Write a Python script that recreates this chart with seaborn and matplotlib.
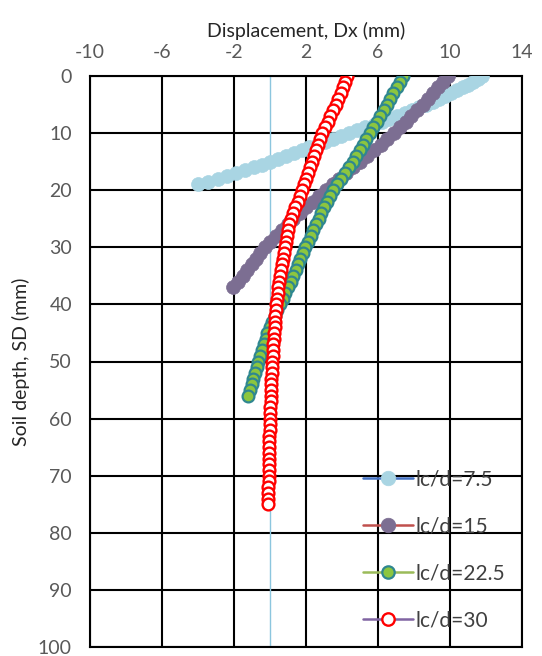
import numpy as np
import pandas as pd
import matplotlib
matplotlib.use('Agg')
import matplotlib.pyplot as plt
import seaborn as sns

# lc/d = 7.5  (depth step 0.5 mm)
depth_75 = [0, 0.5, 1, 1.5, 2, 2.5, 3, 3.5, 4, 4.5, 5, 5.5, 6, 6.5, 7, 7.5, 8, 8.5, 9, 9.5,
            10, 10.5, 11, 11.5, 12, 12.5, 13, 13.5, 14, 14.5, 15, 15.5, 16, 16.5, 17, 17.5,
            18, 18.5, 19]
disp_75 = [11.8, 11.53, 11.25, 10.98, 10.7, 10.38, 10.05, 9.73, 9.4, 9.03, 8.65, 8.28, 7.9,
           7.48, 7.05, 6.63, 6.2, 5.75, 5.3, 4.85, 4.4, 3.95, 3.5, 3.05, 2.6, 2.18, 1.75, 1.33,
           0.9, 0.45, 0.0, -0.45, -0.9, -1.4, -1.9, -2.4, -2.9, -3.45, -4.0]

# lc/d = 15
depth_15 = [0, 1, 2, 3, 4, 5, 6, 7, 8, 9, 10, 11, 12, 13, 14, 15, 16, 17, 18, 19, 20,
            21, 22, 23, 24, 25, 26, 27, 28, 29, 30, 31, 32, 33, 34, 35, 36, 37]
disp_15 = [9.9, 9.62, 9.34, 9.06, 8.78, 8.5, 8.18, 7.86, 7.54, 7.22, 6.9, 6.52, 6.14, 5.76,
           5.38, 5.0, 4.62, 4.24, 3.86, 3.48, 3.1, 2.74, 2.38, 2.02, 1.66, 1.3, 0.98, 0.66,
           0.34, 0.02, -0.3, -0.54, -0.78, -1.02, -1.26, -1.5, -1.78, -2.05]

# lc/d = 22.5
depth_225 = [0, 1, 2, 3, 4, 5, 6, 7, 8, 9, 10, 11, 12, 13, 14, 15, 16, 17, 18, 19, 20,
             21, 22, 23, 24, 25, 26, 27, 28, 29, 30, 31, 32, 33, 34, 35, 36, 37, 38, 39, 40,
             41, 42, 43, 44, 45, 46, 47, 48, 49, 50, 51, 52, 53, 54, 55, 56]
disp_225 = [7.4, 7.22, 7.04, 6.86, 6.68, 6.5, 6.31, 6.12, 5.93, 5.74, 5.55, 5.36, 5.17, 4.98,
            4.79, 4.6, 4.38, 4.16, 3.94, 3.72, 3.5, 3.34, 3.18, 3.02, 2.86, 2.7, 2.55, 2.4,
            2.25, 2.1, 1.95, 1.82, 1.69, 1.56, 1.43, 1.3, 1.15, 1.0, 0.85, 0.7, 0.55, 0.41,
            0.27, 0.13, -0.01, -0.15, -0.25, -0.35, -0.45, -0.55, -0.65, -0.74, -0.83, -0.92,
            -1.01, -1.1, -1.2]

# lc/d = 30
depth_30 = [0, 1, 2, 3, 4, 5, 6, 7, 8, 9, 10, 11, 12, 13, 14, 15, 16, 17, 18, 19, 20,
            21, 22, 23, 24, 25, 26, 27, 28, 29, 30, 31, 32, 33, 34, 35, 36, 37, 38, 39, 40,
            41, 42, 43, 44, 45, 46, 47, 48, 49, 50, 51, 52, 53, 54, 55, 56, 57, 58, 59, 60,
            61, 62, 63, 64, 65, 66, 67, 68, 69, 70, 71, 72, 73, 74, 75]
disp_30 = [4.3, 4.18, 4.06, 3.94, 3.8, 3.65, 3.5, 3.35, 3.2, 3.05, 2.9, 2.78, 2.67, 2.56,
           2.45, 2.35, 2.24, 2.13, 2.02, 1.91, 1.8, 1.67, 1.54, 1.41, 1.28, 1.15, 1.08, 1.02,
           0.96, 0.9, 0.85, 0.79, 0.73, 0.67, 0.61, 0.55, 0.51, 0.47, 0.43, 0.39, 0.35, 0.32,
           0.3, 0.27, 0.25, 0.22, 0.2, 0.18, 0.16, 0.14, 0.12, 0.1, 0.09, 0.07, 0.06, 0.05,
           0.04, 0.03, 0.02, 0.01, 0.0, -0.01, -0.02, -0.03, -0.04, -0.05, -0.06, -0.06,
           -0.07, -0.07, -0.08, -0.08, -0.09, -0.09, -0.1, -0.1]

labels = ['lc/d=7.5', 'lc/d=15', 'lc/d=22.5', 'lc/d=30']
x_ticks = [-10, -6, -2, 2, 6, 10, 14]
y_ticks = [0, 10, 20, 30, 40, 50, 60, 70, 80, 90, 100]

sns.set_style('white')
plt.rcParams['font.family'] = ['Lato', 'DejaVu Sans']
plt.rcParams['axes.unicode_minus'] = False

fig = plt.figure(figsize=(5.42, 6.56), dpi=100)
ax = fig.add_axes([90 / 542, 1 - 647 / 656, 432 / 542, 571 / 656])

ax.axvline(0, color='#8CC6DE', lw=1.0, zorder=1)

series = [
    (disp_75, depth_75, '#4472C4', '#A9D5E3', '#A9D5E3', 10, 0.5),
    (disp_15, depth_15, '#C0504D', '#7C6E92', '#7C6E92', 10, 0.5),
    (disp_225, depth_225, '#9BBB59', '#8CC63F', '#2F8790', 8.5, 1.6),
    (disp_30, depth_30, '#8064A2', 'white', '#FF0000', 8.5, 1.7),
]
for (xs, ys, lc, fc, ec, ms, mew), lab in zip(series, labels):
    df = pd.DataFrame({'x': xs, 'y': ys})
    sns.lineplot(data=df, x='x', y='y', sort=False, estimator=None, ax=ax,
                 color=lc, lw=1.8, marker='o', markersize=ms,
                 markerfacecolor=fc, markeredgecolor=ec, markeredgewidth=mew,
                 label=lab, zorder=3)

ax.set_xlim(-10, 14)
ax.set_ylim(100, 0)
ax.set_xticks(x_ticks)
ax.set_yticks(y_ticks)
ax.xaxis.tick_top()
ax.xaxis.set_label_position('top')
ax.tick_params(length=0, labelsize=14, labelcolor='#595959')
ax.tick_params(axis='x', pad=11)
ax.tick_params(axis='y', pad=13)
ax.grid(True, color='black', lw=1.5)
ax.set_axisbelow(True)
for s in ax.spines.values():
    s.set_color('black')
    s.set_linewidth(1.5)
ax.set_xlabel('Displacement, Dx (mm)', fontsize=14, color='#262626', labelpad=5)
ax.set_ylabel('Soil depth, SD (mm)', fontsize=14, color='#262626', labelpad=6)

leg = ax.legend(loc='lower right', bbox_to_anchor=(1.0, 0.0), frameon=False,
                fontsize=15, handlelength=2.4, labelspacing=1.3, handletextpad=0.15,
                borderaxespad=0.4, markerscale=1.05, labelcolor='#404040')

plt.savefig('out.png', dpi=100)
